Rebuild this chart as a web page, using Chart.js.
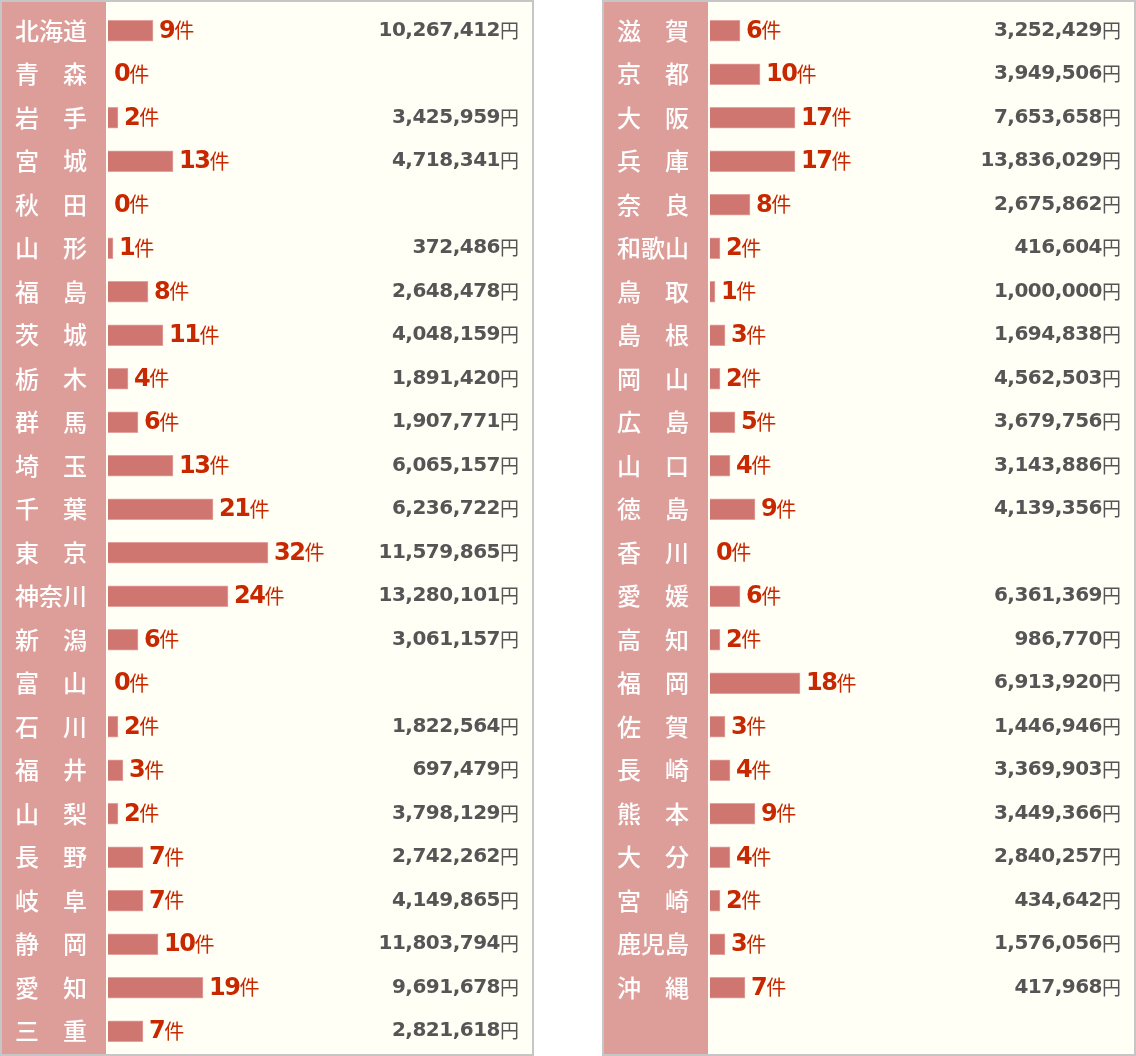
<!DOCTYPE html>
<html>
<head>
<meta charset="utf-8">
<script src="https://cdn.jsdelivr.net/npm/chart.js@4.4.0/dist/chart.umd.min.js"></script>
<style>
  html, body { margin: 0; padding: 0; background: #fff; }
  .panel { position: absolute; top: 0; width: 534px; height: 1056px; }
  #p1 { left: 0; }
  #p2 { left: 602px; }
</style>
</head>
<body>
<div class="panel" id="p1"><canvas id="c1" width="534" height="1056"></canvas></div>
<div class="panel" id="p2"><canvas id="c2" width="534" height="1056"></canvas></div>
<script>
// 東日本〜中部
const prefsA = ["北海道", "青森", "岩手", "宮城", "秋田", "山形", "福島", "茨城", "栃木", "群馬", "埼玉", "千葉",
  "東京", "神奈川", "新潟", "富山", "石川", "福井", "山梨", "長野", "岐阜", "静岡", "愛知", "三重"];
const countsA = [9, 0, 2, 13, 0, 1, 8, 11, 4, 6, 13, 21, 32, 24, 6, 0, 2, 3, 2, 7, 7, 10, 19, 7];
const yenA = [10267412, null, 3425959, 4718341, null, 372486, 2648478, 4048159, 1891420, 1907771, 6065157, 6236722,
  11579865, 13280101, 3061157, null, 1822564, 697479, 3798129, 2742262, 4149865, 11803794, 9691678, 2821618];

// 近畿〜九州・沖縄
const prefsB = ["滋賀", "京都", "大阪", "兵庫", "奈良", "和歌山", "鳥取", "島根", "岡山", "広島", "山口", "徳島",
  "香川", "愛媛", "高知", "福岡", "佐賀", "長崎", "熊本", "大分", "宮崎", "鹿児島", "沖縄"];
const countsB = [6, 10, 17, 17, 8, 2, 1, 3, 2, 5, 4, 9, 0, 6, 2, 18, 3, 4, 9, 4, 2, 3, 7];
const yenB = [3252429, 3949506, 7653658, 13836029, 2675862, 416604, 1000000, 1694838, 4562503, 3679756, 3143886, 4139356,
  null, 6361369, 986770, 6913920, 1446946, 3369903, 3449366, 2840257, 434642, 1576056, 417968];

const ROWS = 24;
const PINK = "#dd9e9a";
const CREAM = "#fffff6";
const BAR = "#d07671";
const RED = "#c82800";
const GRAY = "#555555";
const CJK = "'Noto Sans CJK JP', sans-serif";
const NUM = "'DejaVu Sans', sans-serif";

const panelPlugin = {
  id: "panel",
  beforeDraw(chart) {
    const { ctx, width, height, chartArea } = chart;
    ctx.save();
    ctx.fillStyle = CREAM;
    ctx.fillRect(0, 0, width, height);
    ctx.fillStyle = PINK;
    ctx.fillRect(2, 1, chartArea.left - 4, height - 2);
    ctx.strokeStyle = "#c6c6c6";
    ctx.lineWidth = 2;
    ctx.strokeRect(1, 1, width - 2, height - 2);
    ctx.restore();
  },
  afterDatasetsDraw(chart) {
    const { ctx } = chart;
    const xs = chart.scales.x, ys = chart.scales.y;
    const counts = chart.data.datasets[0].data;
    const names = chart.data.labels;
    const yen = chart.options.plugins.panel.yen;
    ctx.save();
    ctx.textBaseline = "middle";
    counts.forEach((n, i) => {
      const y = ys.getPixelForValue(i);
      // 都道府県名
      const name = names[i].length === 2 ? names[i][0] + "\u3000" + names[i][1] : names[i];
      ctx.textAlign = "center";
      ctx.fillStyle = "#ffffff";
      ctx.letterSpacing = "0px";
      ctx.font = "500 24px " + CJK;
      ctx.fillText(name, 51, y);
      // 件数
      let x = xs.getPixelForValue(n) + 6;
      ctx.textAlign = "left";
      ctx.fillStyle = RED;
      ctx.font = "bold 24px " + NUM;
      ctx.letterSpacing = "-1.5px";
      ctx.fillText(String(n), x, y + 1);
      x += ctx.measureText(String(n)).width;
      ctx.letterSpacing = "0px";
      ctx.font = "20px " + CJK;
      ctx.fillText("件", x, y);
      // 金額
      if (yen[i] != null) {
        const right = 519;
        ctx.fillStyle = GRAY;
        ctx.textAlign = "right";
        ctx.font = "19px " + CJK;
        ctx.fillText("円", right, y);
        const w = ctx.measureText("円").width;
        ctx.font = "bold 20px " + NUM;
        ctx.letterSpacing = "-0.5px";
        ctx.fillText(yen[i].toLocaleString("en-US"), right - w, y);
      }
    });
    ctx.restore();
  }
};

function makeChart(id, prefs, counts, yen, bottomPad) {
  return new Chart(document.getElementById(id), {
    type: "bar",
    data: {
      labels: prefs,
      datasets: [{
        data: counts,
        backgroundColor: BAR,
        borderColor: "#e3a29e",
        borderWidth: 1,
        barThickness: 21
      }]
    },
    options: {
      indexAxis: "y",
      responsive: false,
      animation: false,
      devicePixelRatio: 1,
      layout: { padding: { top: 9, bottom: bottomPad, left: 0, right: 26 } },
      plugins: {
        legend: { display: false },
        tooltip: { enabled: false },
        panel: { yen: yen }
      },
      scales: {
        x: { display: false, min: 0, max: 80 },
        y: {
          grid: { display: false, drawTicks: false },
          border: { display: false },
          ticks: { display: false },
          afterFit(scale) { scale.width = 108; }
        }
      }
    },
    plugins: [panelPlugin]
  });
}

makeChart("c1", prefsA, countsA, yenA, 3);
makeChart("c2", prefsB, countsB, yenB, 3 + (1044 / ROWS));
</script>
</body>
</html>
